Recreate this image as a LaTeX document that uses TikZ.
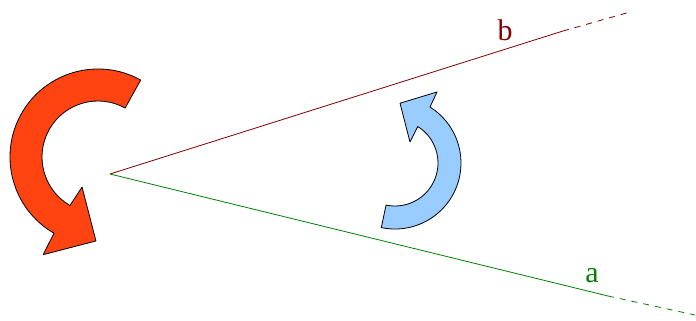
\documentclass[tikz,border=0pt]{standalone}
\usepackage{fontspec}
\setmainfont{Liberation Serif}
\usetikzlibrary{calc}
\definecolor{turnRed}{RGB}{255,68,17}
\definecolor{turnBlue}{RGB}{153,204,255}
\definecolor{rayB}{RGB}{128,0,0}
\definecolor{rayA}{RGB}{0,128,0}
\tikzset{
    turn/.style={draw=black,line width=0.8pt,line join=round},
    ray/.style={line width=0.8pt},
    rayext/.style={line width=0.8pt,dash pattern=on 6pt off 6pt},
    lbl/.style={font=\fontsize{30}{32}\selectfont,inner sep=0pt}
}

\begin{document}
\begin{tikzpicture}[x=1pt,y=1pt]
    \useasboundingbox (0,0) rectangle (696,321);
    \coordinate (O) at (110,147);
    \coordinate (bEnd) at (563,290);
    \coordinate (bFar) at (630,309);
    \coordinate (aEnd) at (608,25);
    \coordinate (aFar) at (695,6);

    \draw[ray,rayB] (O) -- (bEnd);
    \draw[rayext,rayB] (bEnd) -- (bFar);
    \draw[ray,rayA] (O) -- (aEnd);
    \draw[rayext,rayA] (aEnd) -- (aFar);
    \node[lbl,text=rayB] (labB) at (505,291) {b};
    \node[lbl,text=rayA] (labA) at (592,45) {a};

    % big turn round O
    \coordinate (redC) at (98,164);
    \draw[turn,fill=turnRed] ($(redC)+(61:88)$) arc[start angle=61,end angle=240,radius=88]
        -- ($(redC)+(240.7:112)$) -- ($(redC)+(268.6:84)$) -- ($(redC)+(242:34)$)
        -- ($(redC)+(240:56)$) arc[start angle=240,end angle=61,radius=56] -- cycle;

    % small turn inside the angle
    \coordinate (blueC) at (395,158);
    \draw[turn,fill=turnBlue] ($(blueC)+(-102:66)$) arc[start angle=-102,end angle=58,radius=66]
        -- ($(blueC)+(59.4:82.5)$) -- ($(blueC)+(85.2:60)$) -- ($(blueC)+(54.5:25.8)$)
        -- ($(blueC)+(58:43)$) arc[start angle=58,end angle=-102,radius=43] -- cycle;
\end{tikzpicture}
\end{document}
